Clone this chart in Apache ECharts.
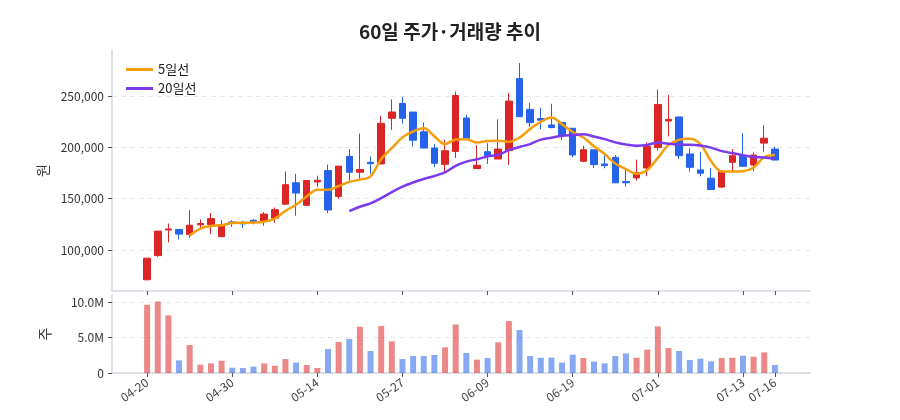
<!DOCTYPE html>
<html>
<head>
<meta charset="utf-8">
<script src="https://cdn.jsdelivr.net/npm/echarts@6/dist/echarts.min.js"></script>
<style>
  html, body { margin: 0; padding: 0; background: #fff; }
  #chart { width: 900px; height: 420px; }
</style>
</head>
<body>
<div id="chart"></div>
<script>
// 60 trading days
const dates = [
    '04-20', '04-21', '04-22', '04-23', '04-24', '04-27', '04-28', '04-29', '04-30', '05-04',
    '05-06', '05-07', '05-08', '05-11', '05-12', '05-13', '05-14', '05-15', '05-18', '05-19',
    '05-20', '05-21', '05-22', '05-26', '05-27', '05-28', '05-29', '06-01', '06-02', '06-04',
    '06-05', '06-08', '06-09', '06-10', '06-11', '06-12', '06-15', '06-16', '06-17', '06-18',
    '06-19', '06-22', '06-23', '06-24', '06-25', '06-26', '06-29', '06-30', '07-01', '07-02',
    '07-03', '07-06', '07-07', '07-08', '07-09', '07-10', '07-13', '07-14', '07-15', '07-16'
];
const opens = [
    71000, 94500, 119500, 120000, 115200, 124500, 124800, 112900, 127400, 127000,
    129000, 128000, 131000, 144700, 165500, 143500, 166300, 177400, 152200, 191300,
    175800, 185500, 183900, 228400, 242900, 234500, 215200, 199400, 183500, 196100,
    228700, 179400, 195800, 188700, 196800, 267100, 237100, 228100, 221900, 224200,
    218700, 186500, 197700, 183900, 190300, 166800, 170300, 180000, 200000, 225800,
    229700, 193600, 178100, 170000, 161300, 185500, 191900, 182900, 204200, 198400
];
const closes = [
    92000, 118400, 120500, 115500, 124200, 125800, 130600, 124800, 125800, 125500,
    127000, 135000, 139300, 163700, 155500, 167700, 167900, 139000, 181800, 175800,
    178400, 184200, 223500, 234500, 228400, 207100, 199400, 184500, 196800, 250600,
    209000, 182600, 191900, 198400, 245200, 230000, 224200, 226500, 219400, 212300,
    192600, 197700, 183200, 182300, 165500, 165500, 175200, 201000, 241900, 227400,
    191900, 180600, 174800, 159000, 176800, 191900, 181600, 192600, 209000, 187700
];
const lows = [
    70300, 93200, 107400, 110300, 111900, 121000, 115500, 112900, 122600, 121600,
    125000, 123600, 126600, 144000, 133400, 142900, 161600, 136100, 150000, 167700,
    169300, 174200, 183900, 217100, 223200, 201000, 199400, 180600, 175200, 189700,
    208100, 179400, 183900, 188700, 182900, 230000, 220300, 217700, 218700, 207400,
    190300, 185500, 180000, 179700, 165200, 161900, 167700, 171900, 196800, 210700,
    188700, 176500, 171900, 159000, 160600, 175800, 181600, 176800, 195800, 187700
];
const highs = [
    92000, 118400, 125800, 120000, 138700, 130000, 136100, 129000, 129000, 128500,
    130000, 137000, 141400, 176400, 174200, 167700, 172400, 183200, 181800, 198400,
    213500, 191000, 230600, 246800, 249300, 234500, 224200, 203200, 207400, 254500,
    231900, 202300, 204200, 227400, 253200, 282300, 243500, 238700, 242600, 225200,
    218700, 201600, 197700, 193600, 192600, 178100, 188100, 204800, 256500, 251000,
    229700, 199000, 195800, 180000, 176800, 198400, 213900, 195200, 221600, 200700
];
const volumes = [
    9620000, 10090000, 8120000, 1780000, 3940000, 1170000, 1360000, 1740000, 750000, 700000,
    890000, 1360000, 1030000, 1970000, 1460000, 1130000, 700000, 3380000, 4370000, 4790000,
    6530000, 3100000, 6620000, 4460000, 1970000, 2390000, 2390000, 2540000, 3610000, 6850000,
    2820000, 1880000, 2110000, 4320000, 7320000, 6060000, 2390000, 2160000, 2160000, 1460000,
    2580000, 2110000, 1600000, 1360000, 2390000, 2770000, 2160000, 3290000, 6570000, 3520000,
    3100000, 1830000, 2020000, 1640000, 2110000, 2160000, 2440000, 2300000, 2910000, 1130000
];
const tickIdx = [0, 8, 16, 24, 32, 40, 48, 56, 59];
const priceTicks = [100000, 150000, 200000, 250000];
const volTicks = [0, 5000000, 10000000];

const UP = '#dc2626';
const DOWN = '#2563eb';
const FONT = '"Noto Sans CJK KR", "Noto Sans", sans-serif';

// moving average of closes
function movingAvg(n) {
    const out = [];
    for (let i = n - 1; i < closes.length; i++) {
        let s = 0;
        for (let j = i - n + 1; j <= i; j++) s += closes[j];
        out.push([i, s / n]);
    }
    return out;
}

const candleData = dates.map((d, i) => [i, opens[i], closes[i], lows[i], highs[i]]);
const volData = volumes.map((v, i) => ({
    value: [i, v],
    itemStyle: { color: closes[i] >= opens[i] ? 'rgba(220,38,38,0.55)' : 'rgba(37,99,235,0.55)' }
}));

const axisLineStyle = { color: '#d3d7df', width: 1.5 };
const tickStyle = { color: '#555' };

const chart = echarts.init(document.getElementById('chart'));
chart.setOption({
    animation: false,
    textStyle: { fontFamily: FONT },
    title: {
        text: '60일 주가·거래량 추이',
        left: 'center',
        top: 17,
        textStyle: { fontSize: 19, fontWeight: 'bold', color: '#222', fontFamily: FONT }
    },
    legend: {
        orient: 'vertical',
        left: 121,
        top: 58,
        itemWidth: 27,
        itemHeight: 3,
        itemGap: 6,
        textStyle: { fontSize: 13, color: '#222', fontFamily: FONT },
        data: [
            { name: '5일선', icon: 'rect' },
            { name: '20일선', icon: 'rect' }
        ]
    },
    grid: [
        { left: 112, right: 90, top: 50, height: 241 },
        { left: 112, right: 90, top: 295, height: 78 }
    ],
    xAxis: [0, 1].map(g => ({
        type: 'value',
        gridIndex: g,
        min: -3.3,
        max: 62.3,
        splitLine: { show: false },
        axisLine: { onZero: false, lineStyle: axisLineStyle },
        axisTick: { show: true, length: 4, lineStyle: tickStyle, customValues: tickIdx },
        axisLabel: {
            show: g === 1,
            customValues: tickIdx,
            rotate: 35,
            fontSize: 12,
            color: '#444',
            margin: 8,
            formatter: v => dates[Math.round(v)] || ''
        }
    })),
    yAxis: [
        {
            type: 'value',
            gridIndex: 0,
            min: 60000,
            max: 295000,
            name: '원',
            nameLocation: 'middle',
            nameGap: 60,
            nameTextStyle: { fontSize: 14, color: '#333' },
            axisLine: { show: true, onZero: false, lineStyle: axisLineStyle },
            axisTick: { show: true, length: 4, lineStyle: tickStyle, customValues: priceTicks },
            axisLabel: {
                customValues: priceTicks,
                fontSize: 12,
                color: '#333',
                formatter: v => v.toLocaleString('en-US')
            },
            splitLine: { show: true, lineStyle: { color: '#e6e8ec', type: [5, 4] } }
        },
        {
            type: 'value',
            gridIndex: 1,
            min: 0,
            max: 11000000,
            name: '주',
            nameLocation: 'middle',
            nameGap: 60,
            nameTextStyle: { fontSize: 14, color: '#333' },
            axisLine: { show: true, onZero: false, lineStyle: axisLineStyle },
            axisTick: { show: true, length: 4, lineStyle: tickStyle, customValues: volTicks },
            axisLabel: {
                customValues: volTicks,
                fontSize: 12,
                color: '#333',
                formatter: v => v === 0 ? '0' : (v / 1000000).toFixed(1) + 'M'
            },
            splitLine: { show: true, lineStyle: { color: '#e6e8ec', type: [5, 4] } }
        }
    ],
    series: [
        {
            type: 'candlestick',
            xAxisIndex: 0,
            yAxisIndex: 0,
            data: candleData,
            encode: { x: 0, y: [1, 2, 3, 4] },
            barWidth: 7,
            itemStyle: {
                color: UP,
                color0: DOWN,
                borderColor: UP,
                borderColor0: DOWN,
                borderWidth: 1
            }
        },
        {
            name: '5일선',
            type: 'line',
            xAxisIndex: 0,
            yAxisIndex: 0,
            data: movingAvg(5),
            smooth: 0.35,
            showSymbol: false,
            itemStyle: { color: '#f59e0b' },
            lineStyle: { color: '#f59e0b', width: 2.5 }
        },
        {
            name: '20일선',
            type: 'line',
            xAxisIndex: 0,
            yAxisIndex: 0,
            data: movingAvg(20),
            smooth: 0.35,
            showSymbol: false,
            itemStyle: { color: '#7c3aed' },
            lineStyle: { color: '#7c3aed', width: 2.5 }
        },
        {
            type: 'bar',
            xAxisIndex: 1,
            yAxisIndex: 1,
            data: volData,
            barWidth: 6
        }
    ]
});
</script>
</body>
</html>
